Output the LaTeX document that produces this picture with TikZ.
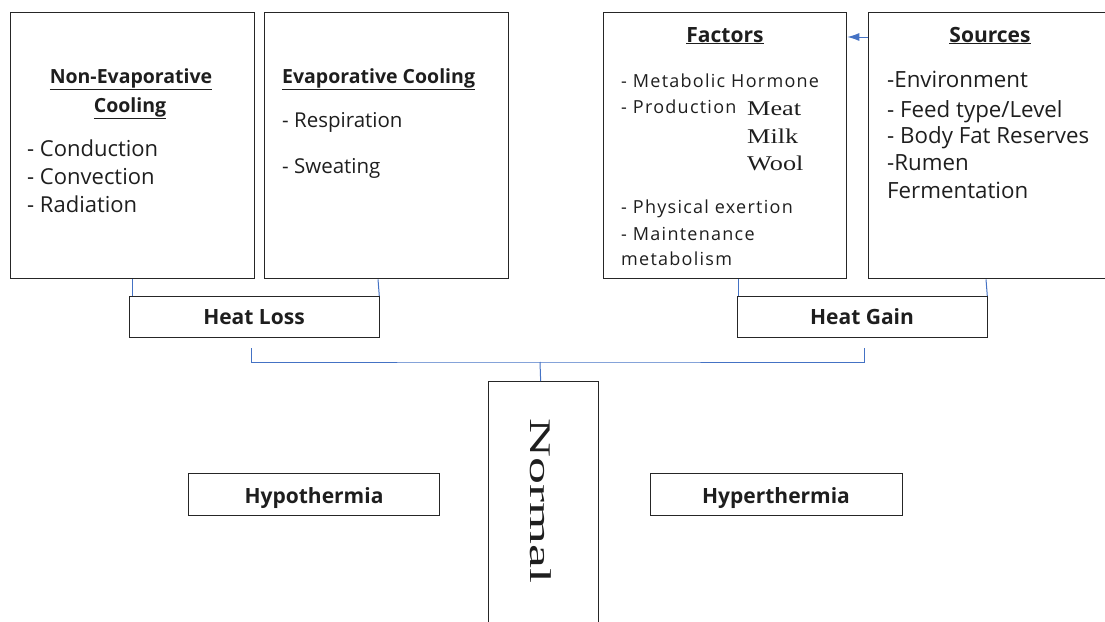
\documentclass[tikz,border=0pt]{standalone}
\usepackage{fontspec}
\setmainfont{Open Sans}
\newfontfamily\serifa{Liberation Serif}
\newfontfamily\spaced{Open Sans}[LetterSpace=7]
\usetikzlibrary{arrows.meta}
\definecolor{conn}{RGB}{68,114,196}
\definecolor{ink}{RGB}{30,30,30}
\begin{document}
\begin{tikzpicture}[x=1pt,y=-1pt,
  box/.style={draw=black!85, line width=1.3pt, inner sep=0pt, anchor=north west},
  txt/.style={inner sep=0pt, anchor=base west, text=ink},
  ctr/.style={inner sep=0pt, anchor=base, text=ink},
  link/.style={draw=conn, line width=1pt},
  ttl/.style={ctr, font=\fontsize{19.5}{19.5}\selectfont\bfseries},
  big/.style={ctr, font=\fontsize{21}{21}\selectfont\bfseries},
  n22/.style={txt, font=\fontsize{22}{22}\selectfont},
  n20/.style={txt, font=\fontsize{20.5}{20.5}\selectfont},
  nfac/.style={txt, font=\fontsize{18}{18}\spaced},
  nsrc/.style={txt, font=\fontsize{22.3}{22.3}\selectfont},
  srf/.style={txt, font=\fontsize{21}{21}\serifa}]
\useasboundingbox (0,0) rectangle (1105,621);
% top boxes
\node[box, minimum width=244pt, minimum height=266pt] (nonevap) at (10,12) {};
\node[box, minimum width=244pt, minimum height=266pt] (evap) at (264,12) {};
\node[box, minimum width=243pt, minimum height=266pt] (factors) at (603,12) {};
\node[box, minimum width=260pt, minimum height=266pt] (sources) at (868,12) {};
% middle boxes
\node[box, minimum width=250pt, minimum height=41pt] (heatloss) at (129,296) {};
\node[box, minimum width=250pt, minimum height=41pt] (heatgain) at (737,296) {};
\node[box, minimum width=110pt, minimum height=270pt] (normal) at (488,381) {};
\node[box, minimum width=251pt, minimum height=42pt] (hypo) at (188,473) {};
\node[box, minimum width=252pt, minimum height=42pt] (hyper) at (650,473) {};
% Non-evaporative text
\node[ttl] (t1a) at (131,83) {\underline{Non-Evaporative}};
\node[ttl] (t1b) at (130,112) {\underline{Cooling}};
\node[n22] (c1) at (27,156) {- Conduction};
\node[n22] (c2) at (27,184) {- Convection};
\node[n22] (c3) at (27,212) {- Radiation};
% Evaporative text
\node[ttl, anchor=base west] (t2) at (282,83) {\underline{Evaporative Cooling}};
\node[n20] (e1) at (282,127) {- Respiration};
\node[n20] (e2) at (282,173) {- Sweating};
% Factors text
\node[big] (t3) at (725,42) {\underline{Factors}};
\node[nfac] (f1) at (621,87) {- Metabolic Hormone};
\node[nfac] (f2) at (621,113) {- Production};
\node[srf] (m1) at (747,115) {\scalebox{1.25}[1]{Meat}};
\node[srf] (m2) at (747,143) {\scalebox{1.25}[1]{Milk}};
\node[srf] (m3) at (747,170) {\scalebox{1.25}[1]{Wool}};
\node[nfac] (f3) at (621,213) {- Physical exertion};
\node[nfac] (f4) at (621,240) {- Maintenance};
\node[nfac] (f5) at (621,265) {metabolism};
% Sources text
\node[big] (t4) at (990,42) {\underline{Sources}};
\node[nsrc] (s1) at (887,87) {-Environment};
\node[nsrc] (s2) at (887,117) {- Feed type/Level};
\node[nsrc] (s3) at (887,143) {- Body Fat Reserves};
\node[nsrc] (s4) at (887,170) {-Rumen};
\node[nsrc] (s5) at (887,198) {Fermentation};
% labels
\node[big] (lhl) at (254,324) {Heat Loss};
\node[big] (lhg) at (862,324) {Heat Gain};
\node[big] (lhypo) at (314,503) {Hypothermia};
\node[big] (lhyper) at (776,503) {Hyperthermia};
\node[inner sep=0pt, rotate=-90, text=ink] (lnormal) at (541,501)
  {\fontsize{30}{30}\serifa\scalebox{1.8}[1]{Normal}};
% connectors
\draw[link] ([xshift=122pt]nonevap.south west) -- ([xshift=3pt]heatloss.north west);
\draw[link] ([xshift=114pt]evap.south west) -- ([xshift=-1pt]heatloss.north east);
\draw[link] ([xshift=135pt]factors.south west) -- ([xshift=1pt]heatgain.north west);
\draw[link] ([xshift=118pt]sources.south west) -- ([xshift=-1pt]heatgain.north east);
\coordinate (hlend) at (251,348);
\coordinate (hgend) at (864,348);
\coordinate (mid) at (540,362);
\draw[link] (hlend) |- (mid) -| (hgend);
\draw[link] (mid) -- ([xshift=-3pt]normal.north);
\draw[link, -{Latex[length=12pt,width=8pt]}] (sources.west |- 0,37) -- (factors.east |- 0,37);
\end{tikzpicture}
\end{document}
